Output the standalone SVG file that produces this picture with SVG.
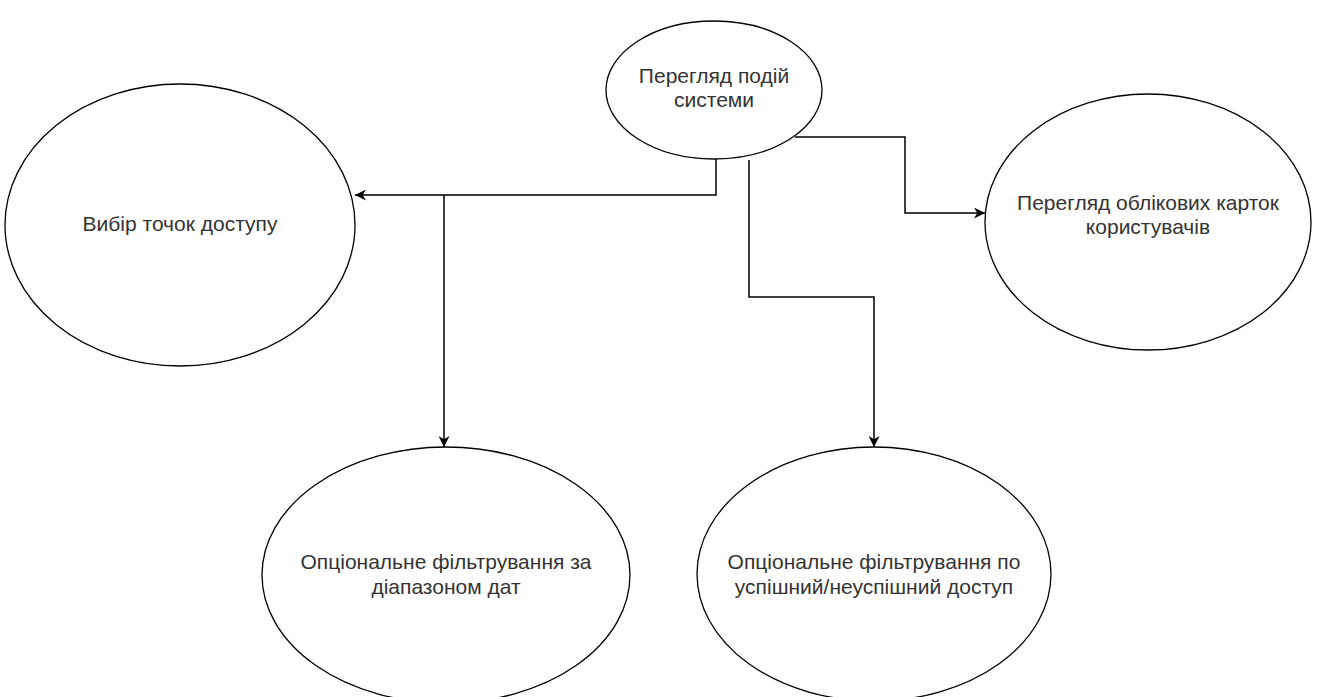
<svg xmlns="http://www.w3.org/2000/svg" width="1317" height="697" viewBox="0 0 1317 697">
<style>
.n{fill:#fff;stroke:#000;stroke-width:1.3}
.t{font-family:"Liberation Sans",Arial,sans-serif;font-size:21px;fill:#333;text-anchor:middle}
.c{fill:none;stroke:#000;stroke-width:1.5}
</style>
<defs>
<marker id="a" viewBox="0 0 10 10" refX="10" refY="5" markerWidth="11" markerHeight="11" markerUnits="userSpaceOnUse" orient="auto">
<path d="M0,0 L10,5 L0,10 L3,5 Z" fill="#000"/>
</marker>
</defs>
<rect width="1317" height="697" fill="#fff"/>
<g id="connectors">
<path class="c" d="M716,158 V195 H355" marker-end="url(#a)"/>
<path class="c" d="M444,195 V447" marker-end="url(#a)"/>
<path class="c" d="M749,160 V297 H874 V447" marker-end="url(#a)"/>
<path class="c" d="M795,137 H905 V213 H985" marker-end="url(#a)"/>
</g>
<g id="node-top">
<ellipse class="n" cx="714" cy="90" rx="108" ry="69"/>
<text class="t" x="714" y="83">Перегляд подій</text>
<text class="t" x="714" y="107">системи</text>
</g>
<g id="node-left">
<ellipse class="n" cx="180" cy="225" rx="175" ry="141"/>
<text class="t" x="180" y="231">Вибір точок доступу</text>
</g>
<g id="node-right">
<ellipse class="n" cx="1148" cy="222" rx="163" ry="128"/>
<text class="t" x="1148" y="210">Перегляд облікових карток</text>
<text class="t" x="1148" y="234">користувачів</text>
</g>
<g id="node-bottom-left">
<ellipse class="n" cx="446" cy="575" rx="184" ry="128"/>
<text class="t" x="446" y="569">Опціональне фільтрування за</text>
<text class="t" x="446" y="594">діапазоном дат</text>
</g>
<g id="node-bottom-right">
<ellipse class="n" cx="874" cy="574" rx="177" ry="127"/>
<text class="t" x="874" y="569">Опціональне фільтрування по</text>
<text class="t" x="874" y="594">успішний/неуспішний доступ</text>
</g>
</svg>
